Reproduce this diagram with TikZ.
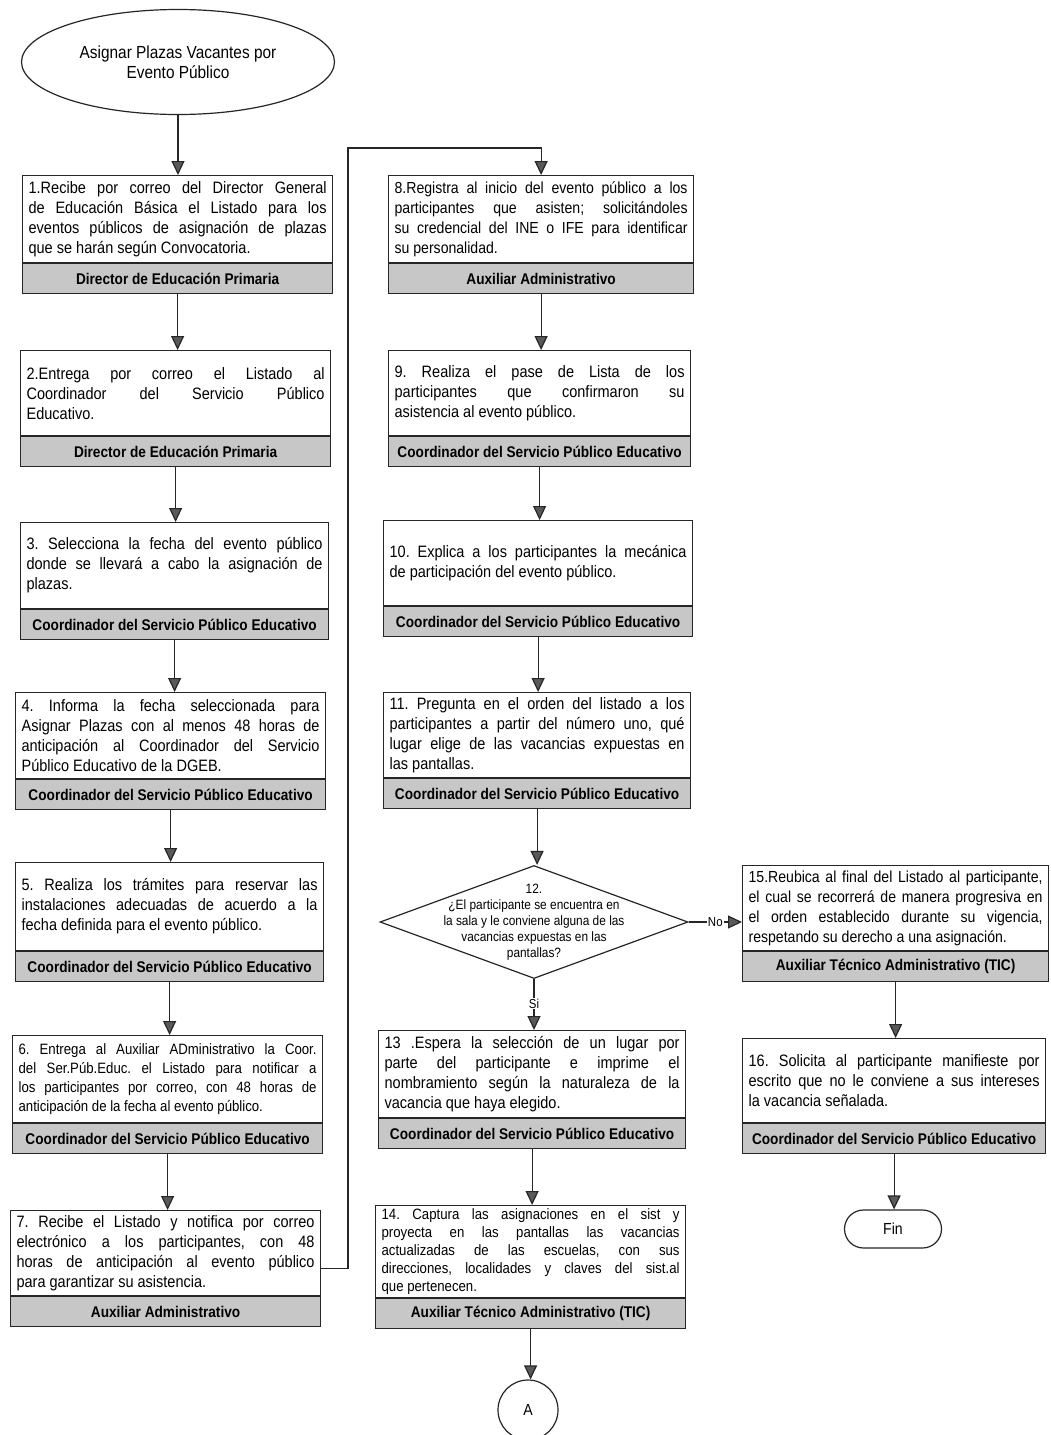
\documentclass[tikz,border=0pt]{standalone}
\usepackage{fontspec}
\setmainfont{Liberation Sans}[FakeStretch=0.88]
\usetikzlibrary{shapes.geometric,arrows.meta,calc}
\frenchspacing
\tikzset{
  every node/.style={text=black},
  tbox/.style={draw=black!85, line width=1.2pt, anchor=north west, align=justify,
    inner xsep=6pt, inner ysep=3pt},
  rbox/.style={draw=black!85, line width=1.2pt, anchor=north west, fill=black!22,
    minimum height=30pt, inner sep=0pt, align=center,
    font=\fontsize{15.5}{17}\selectfont\bfseries},
  arr/.style={draw=black!85, line width=1.2pt,
    -{Triangle[width=13pt,length=14pt,fill=black!65]}},
  lbl/.style={fill=white, inner sep=1pt, font=\fontsize{13}{15}\selectfont},
}
\newcommand\procbox[8][\fontsize{16.5}{20}\selectfont]{%
  \pgfmathsetmacro\pbw{#5-12}%
  \node[tbox, font={#1\parindent=0pt\frenchspacing}, minimum width=#5pt, text width=\pbw pt, minimum height=#6pt] (#2) at (#3,#4) {#7};
  \node[rbox, minimum width=#5pt] (#2r) at (#2.south west) {#8};
}
\begin{document}
\begin{tikzpicture}[x=1pt,y=-1pt]
\fill[white] (0,0) rectangle (1050,1435);
\useasboundingbox (0,0) rectangle (1050,1435);

% start
\node[draw=black!85, line width=1.2pt, ellipse, minimum width=313pt, minimum height=105pt,
  inner sep=0pt, align=center, font=\fontsize{17.5}{20}\selectfont] (start) at (178,62)
  {Asignar Plazas Vacantes por\\Evento Público};

% left column
\procbox{b1}{22}{175}{310}{87}{1.Recibe por correo del Director General\linebreak de Educación Básica el Listado para los\linebreak eventos públicos de asignación de plazas\linebreak que se harán según Convocatoria.}{Director de Educación Primaria}
\procbox{b2}{20}{350}{310}{85}{2.Entrega por correo el Listado al\linebreak Coordinador del Servicio Público\linebreak Educativo.}{Director de Educación Primaria}
\procbox{b3}{20}{522}{308}{86}{3. Selecciona la fecha del evento público\linebreak donde se llevará a cabo la asignación de\linebreak plazas.}{Coordinador del Servicio Público Educativo}
\procbox{b4}{15}{692}{310}{86}{4. Informa la fecha seleccionada para\linebreak Asignar Plazas con al menos 48 horas de\linebreak anticipación al Coordinador del Servicio\linebreak Público Educativo de la DGEB.}{Coordinador del Servicio Público Educativo}
\procbox{b5}{15}{862}{308}{88}{5. Realiza los trámites para reservar las\linebreak instalaciones adecuadas de acuerdo a la\linebreak fecha definida para el evento público.}{Coordinador del Servicio Público Educativo}
\procbox[\fontsize{15}{19}\selectfont]{b6}{12}{1035}{310}{87}{6. Entrega al Auxiliar ADministrativo la Coor.\linebreak del Ser.Púb.Educ. el Listado para notificar a\linebreak los participantes por correo, con 48 horas de\linebreak anticipación de la fecha al evento público.}{Coordinador del Servicio Público Educativo}
\procbox{b7}{10}{1210}{310}{85}{7. Recibe el Listado y notifica por correo\linebreak electrónico a los participantes, con 48\linebreak horas de anticipación al evento público\linebreak para garantizar su asistencia.}{Auxiliar Administrativo}

% right column
\procbox[\fontsize{16}{20}\selectfont]{b8}{388}{175}{305}{87}{8.Registra al inicio del evento público a los\linebreak participantes que asisten; solicitándoles\linebreak su credencial del INE o IFE para identificar\linebreak su personalidad.}{Auxiliar Administrativo}
\procbox{b9}{388}{350}{302}{85}{9. Realiza el pase de Lista de los\linebreak participantes que confirmaron su\linebreak asistencia al evento público.}{Coordinador del Servicio Público Educativo}
\procbox{b10}{383}{520}{309}{85}{10. Explica a los participantes la mecánica\linebreak de participación del evento público.}{Coordinador del Servicio Público Educativo}
\procbox{b11}{383}{692}{307}{85}{11. Pregunta en el orden del listado a los\linebreak participantes a partir del número uno, qué\linebreak lugar elige de las vacancias expuestas en\linebreak las pantallas.}{Coordinador del Servicio Público Educativo}

\node[draw=black!85, line width=1.2pt, diamond, minimum width=308pt, minimum height=113pt,
  inner sep=0pt] (d12) at (534,922) {};
\node[align=center, font=\fontsize{13.5}{16}\selectfont] (d12t) at (d12.center)
  {12.\\¿El participante se encuentra en\\la sala y le conviene alguna de las\\vacancias expuestas en las\\pantallas?};

\procbox{b13}{378}{1030}{307}{87}{13 .Espera la selección de un lugar por\linebreak parte del participante e imprime el\linebreak nombramiento según la naturaleza de la\linebreak vacancia que haya elegido.}{Coordinador del Servicio Público Educativo}
\procbox[\fontsize{15}{18}\selectfont]{b14}{375}{1205}{310}{90}{14. Captura las asignaciones en el sist y\linebreak proyecta en las pantallas las vacancias\linebreak actualizadas de las escuelas, con sus\linebreak direcciones, localidades y claves del sist.al\linebreak que pertenecen.}{Auxiliar Técnico Administrativo (TIC)}

\node[draw=black!85, line width=1.2pt, circle, minimum size=60pt, inner sep=0pt,
  font=\fontsize{16}{16}\selectfont] (A) at (528,1410) {A};

% far right
\procbox[\fontsize{16}{20}\selectfont]{b15}{742}{865}{306}{85}{15.Reubica al final del Listado al participante,\linebreak el cual se recorrerá de manera progresiva en\linebreak el orden establecido durante su vigencia,\linebreak respetando su derecho a una asignación.}{Auxiliar Técnico Administrativo (TIC)}
\procbox{b16}{742}{1038}{303}{84}{16. Solicita al participante manifieste por\linebreak escrito que no le conviene a sus intereses\linebreak la vacancia señalada.}{Coordinador del Servicio Público Educativo}

\node[draw=black!85, line width=1.2pt, rectangle, rounded corners=19pt, minimum width=97pt,
  minimum height=38pt, font=\fontsize{16}{16}\selectfont] (fin) at (893,1229) {Fin};

% connectors
\draw[arr] (start.south) -- (start.south |- b1.north);
\draw[arr] (b1r.south) -- (b1r.south |- b2.north);
\draw[arr] (b2r.south) -- (b2r.south |- b3.north);
\draw[arr] (b3r.south) -- (b3r.south |- b4.north);
\draw[arr] (b4r.south) -- (b4r.south |- b5.north);
\draw[arr] (b5r.south) -- (b5r.south |- b6.north);
\draw[arr] (b6r.south) -- (b6r.south |- b7.north);

\coordinate (c7) at ($(b7.south east)+(0,-28)$);
\coordinate (j1) at (348,148);
\draw[arr] (c7) -| (j1) -| (b8.north);

\draw[arr] (b8r.south) -- (b8r.south |- b9.north);
\draw[arr] (b9r.south) -- (b9r.south |- b10.north);
\draw[arr] (b10r.south) -- (b10r.south |- b11.north);
\draw[arr] (b11r.south) -- (b11r.south |- d12.north);
\draw[arr] (d12.south) -- node[lbl, pos=0.48] {Si} (d12.south |- b13.north);
\draw[arr] (d12.east) -- node[lbl] {No} (d12.east -| b15.west);
\draw[arr] (b13r.south) -- (b13r.south |- b14.north);
\draw[arr] (b14r.south) -- (b14r.south |- A.north);
\draw[arr] (b15r.south) -- (b15r.south |- b16.north);
\draw[arr] (b16r.south) -- (b16r.south |- fin.north);
\end{tikzpicture}
\end{document}
